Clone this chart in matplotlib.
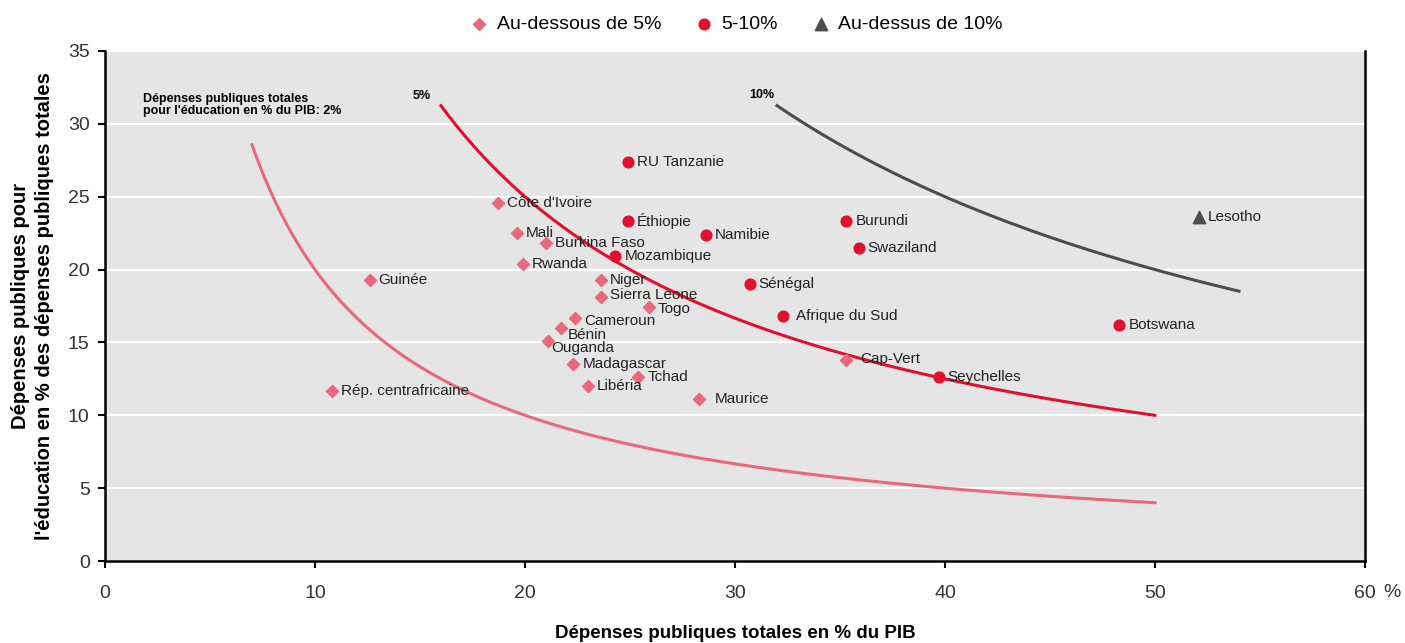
import numpy as np
import matplotlib.pyplot as plt

plt.rcParams['font.family'] = ['Liberation Sans', 'DejaVu Sans']

# pays avec dépenses d'éducation < 5% du PIB
low_names = ["Côte d'Ivoire", "Mali", "Burkina Faso", "Rwanda", "Guinée", "Niger",
             "Sierra Leone", "Togo", "Cameroun", "Bénin", "Ouganda", "Madagascar",
             "Tchad", "Libéria", "Maurice", "Rép. centrafricaine", "Cap-Vert"]
low_x = [18.7, 19.6, 21.0, 19.9, 12.6, 23.6, 23.6, 25.9, 22.4, 21.7, 21.1, 22.3,
         25.4, 23.0, 28.3, 10.8, 35.3]
low_y = [24.6, 22.5, 21.8, 20.4, 19.3, 19.3, 18.1, 17.4, 16.7, 16.0, 15.1, 13.5,
         12.6, 12.0, 11.1, 11.7, 13.8]

# 5-10%
mid_names = ["RU Tanzanie", "Éthiopie", "Namibie", "Mozambique", "Burundi",
             "Swaziland", "Sénégal", "Afrique du Sud", "Botswana", "Seychelles"]
mid_x = [24.9, 24.9, 28.6, 24.3, 35.3, 35.9, 30.7, 32.3, 48.3, 39.7]
mid_y = [27.4, 23.3, 22.4, 20.9, 23.3, 21.5, 19.0, 16.8, 16.2, 12.6]

# > 10%
high_names = ["Lesotho"]
high_x = [52.1]
high_y = [23.6]

# iso-courbes : dépenses d'éducation = k % du PIB
iso_levels = [2, 5, 10]
iso_ranges = [(7, 50), (16, 50), (32, 54)]

c_low = '#E8697B'
c_mid = '#E0102F'
c_high = '#4D4D4D'

# décalages des étiquettes (pixels)
offsets = {"Bénin": (7, -7), "Ouganda": (3, -7), "Maurice": (15, 0),
           "Cap-Vert": (14, 1), "Afrique du Sud": (13, 0), "Togo": (9, -2),
           "Cameroun": (9, -3), "Sierra Leone": (9, 2)}

fig = plt.figure(figsize=(14.05, 6.43), dpi=100)
ax = fig.add_axes([0.0747, 0.1275, 0.8968, 0.7932])
ax.set_facecolor('#E5E5E5')

for k, (x0, x1), col in zip(iso_levels, iso_ranges, [c_low, c_mid, c_high]):
    xs = np.linspace(x0, x1, 200)
    ax.plot(xs, 100.0 * k / xs, color=col, lw=2.2, zorder=2)

ax.scatter(low_x, low_y, marker='D', s=38, color=c_low, zorder=3, label='Au-dessous de 5%')
ax.scatter(mid_x, mid_y, marker='o', s=60, color=c_mid, zorder=3, label='5-10%')
ax.scatter(high_x, high_y, marker='^', s=80, color=c_high, zorder=3, label='Au-dessus de 10%')

for names, xs, ys in [(low_names, low_x, low_y), (mid_names, mid_x, mid_y),
                      (high_names, high_x, high_y)]:
    for n, x, y in zip(names, xs, ys):
        dx, dy = offsets.get(n, (9, 0))
        ax.annotate(n, (x, y), xytext=(dx * 0.72, dy * 0.72), textcoords='offset points',
                    ha='left', va='center', fontsize=11, color='#222222', zorder=4)

ax.text(1.8, 31.3, "Dépenses publiques totales\npour l'éducation en % du PIB: 2%",
        fontsize=9, fontweight='bold', va='center', linespacing=0.95)
ax.text(15.5, 31.9, "5%", fontsize=9, fontweight='bold', ha='right', va='center')
ax.text(31.9, 32.0, "10%", fontsize=9, fontweight='bold', ha='right', va='center')

ax.set_xlim(0, 60)
ax.set_ylim(0, 35)
ax.set_xticks(range(0, 61, 10))
ax.set_yticks(range(0, 36, 5))
ax.yaxis.grid(True, color='white', lw=1.5)
ax.set_axisbelow(True)
ax.tick_params(axis='both', labelsize=14, colors='black', labelcolor='#333333')
ax.tick_params(axis='x', direction='out', length=5, width=1.5, pad=12)
ax.tick_params(axis='y', direction='out', length=5, width=1.5, pad=6)
for s in ['left', 'bottom', 'right']:
    ax.spines[s].set_linewidth(1.8)
    ax.spines[s].set_color('black')
ax.spines['top'].set_visible(False)

ax.text(60.85, -2.15, '%', fontsize=14, color='#333333', ha='left', va='center')

ax.set_xlabel('Dépenses publiques totales en % du PIB', fontsize=13.5, fontweight='bold',
              labelpad=17)
ax.set_ylabel("Dépenses publiques pour\nl'éducation en % des dépenses publiques totales",
              fontsize=14.5, fontweight='bold', labelpad=10, linespacing=1.35)

ax.legend(loc='lower center', bbox_to_anchor=(0.5, 1.0), ncol=3, frameon=False,
          fontsize=14, handletextpad=0.3, handlelength=1.2, columnspacing=1.6,
          markerscale=1.0)

fig.savefig('out.png', dpi=100)
